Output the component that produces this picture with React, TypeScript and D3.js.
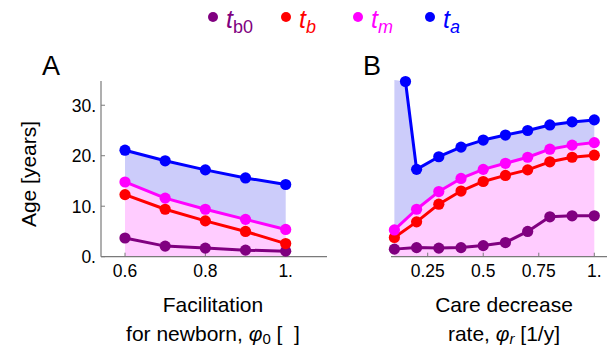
import React from "react";
import * as d3 from "d3";

// ---------- data ----------
const xA = [0.6, 0.7, 0.8, 0.9, 1.0];
const tb0A = [3.7, 2.1, 1.7, 1.3, 1.1];
const tbA = [12.3, 9.4, 7.1, 5.0, 2.6];
const tmA = [14.8, 11.6, 9.4, 7.4, 5.4];
const taA = [21.1, 19.0, 17.2, 15.6, 14.3];

const xB = [0.1, 0.2, 0.3, 0.4, 0.5, 0.6, 0.7, 0.8, 0.9, 1.0];
const tb0B = [1.5, 1.8, 1.7, 1.8, 2.2, 2.8, 5.0, 7.9, 8.1, 8.1];
const tbB = [3.8, 6.9, 10.4, 13.0, 14.9, 16.1, 17.2, 18.8, 19.7, 20.1];
const tmB = [5.3, 9.4, 12.9, 15.5, 17.3, 18.5, 19.7, 21.3, 22.1, 22.6];
const xBa = [0.15, 0.2, 0.3, 0.4, 0.5, 0.6, 0.7, 0.8, 0.9, 1.0];
const taB = [34.7, 17.3, 19.8, 21.7, 23.1, 24.1, 25.0, 26.1, 26.7, 27.1];

const yTicks = [0, 10, 20, 30];
const yTickLabels = ["0.", "10.", "20.", "30."];
const xTicksA = [0.6, 0.8, 1.0];
const xTickLabelsA = ["0.6", "0.8", "1."];
const xTicksB = [0.25, 0.5, 0.75, 1.0];
const xTickLabelsB = ["0.25", "0.5", "0.75", "1."];

const legendNames = ["b0", "b", "m", "a"];
const legendItalicSub = [false, true, true, true];

const C_PURPLE = "#800080";
const C_RED = "#ff0000";
const C_MAGENTA = "#ff00ff";
const C_BLUE = "#0000ff";
const seriesColors = [C_PURPLE, C_RED, C_MAGENTA, C_BLUE];
const FILL_PINK = "#ffccff";
const FILL_BLUE = "#ccccfa";
const AXIS = "#7a7a7a";
const FONT = "'Liberation Sans', Arial, Helvetica, sans-serif";

const Y_MAX = 35;
const yScale = d3.scaleLinear().domain([0, Y_MAX]).range([256.7, 80]);

type Pt = [number, number];
const zip = (xs: number[], ys: number[]): Pt[] => xs.map((x, i) => [x, ys[i]]);

function Panel({
  xScale,
  xs,
  series,
  xsTa,
  ta,
  taFillStart,
  xTicks,
  xTickLabels,
  showY,
}: {
  xScale: d3.ScaleLinear<number, number>;
  xs: number[];
  series: number[][];
  xsTa: number[];
  ta: number[];
  taFillStart: boolean;
  xTicks: number[];
  xTickLabels: string[];
  showY: boolean;
}) {
  const [tb0, tb, tm] = series;
  const y0 = yScale(0);
  const xr = xScale.range();

  const pinkArea = d3
    .area<Pt>()
    .x((d) => xScale(d[0]))
    .y0(y0)
    .y1((d) => yScale(d[1]))(zip(xs, tm));

  const upper: Pt[] = taFillStart ? [[xs[0], Y_MAX], ...zip(xsTa, ta)] : zip(xsTa, ta);
  const lower: Pt[] = zip(xs, tm).reverse();
  const bluePoly = [...upper, ...lower]
    .map((d) => `${xScale(d[0])},${yScale(d[1])}`)
    .join(" ");

  const line = d3
    .line<Pt>()
    .x((d) => xScale(d[0]))
    .y((d) => yScale(d[1]));

  const allSeries: { pts: Pt[]; color: string }[] = [
    { pts: zip(xs, tb0), color: C_PURPLE },
    { pts: zip(xs, tb), color: C_RED },
    { pts: zip(xs, tm), color: C_MAGENTA },
    { pts: zip(xsTa, ta), color: C_BLUE },
  ];

  return (
    <g>
      <polygon points={bluePoly} fill={FILL_BLUE} />
      <path d={pinkArea || ""} fill={FILL_PINK} />
      <line x1={xr[0]} x2={xr[1]} y1={y0} y2={y0} stroke={AXIS} strokeWidth={1.2} />
      {xTicks.map((t, i) => (
        <g key={"xt" + i}>
          <line x1={xScale(t)} x2={xScale(t)} y1={y0} y2={y0 - 4} stroke={AXIS} strokeWidth={1} />
          <text
            x={xScale(t)}
            y={277}
            textAnchor="middle"
            fontFamily={FONT}
            fontSize={17.5}
            fill="#000"
          >
            {xTickLabels[i]}
          </text>
        </g>
      ))}
      {showY && (
        <g>
          <line x1={xr[0]} x2={xr[0]} y1={y0} y2={yScale(Y_MAX) + 1} stroke={AXIS} strokeWidth={1.2} />
          {yTicks.map((t, i) => (
            <g key={"yt" + i}>
              <line x1={xr[0]} x2={xr[0] + 4} y1={yScale(t)} y2={yScale(t)} stroke={AXIS} strokeWidth={1} />
              <text
                x={xr[0] - 5}
                y={yScale(t) + 6.3}
                textAnchor="end"
                fontFamily={FONT}
                fontSize={17.5}
                fill="#000"
              >
                {yTickLabels[i]}
              </text>
            </g>
          ))}
        </g>
      )}
      {allSeries.map((s, i) => (
        <path
          key={"l" + i}
          d={line(s.pts) || ""}
          fill="none"
          stroke={s.color}
          strokeWidth={3}
          strokeLinejoin="round"
        />
      ))}
      {allSeries.map((s, i) =>
        s.pts.map((p, j) => (
          <circle key={`p${i}-${j}`} cx={xScale(p[0])} cy={yScale(p[1])} r={5.6} fill={s.color} />
        ))
      )}
    </g>
  );
}

export default function App() {
  const baseA = d3.scaleLinear().domain([0.6, 1.0]).range([125, 285.7]);
  const baseB = d3.scaleLinear().domain([0.25, 1.0]).range([427.7, 594.3]);
  const scaleA = d3.scaleLinear().domain([baseA.invert(101), baseA.invert(327)]).range([101, 327]);
  const scaleB = d3.scaleLinear().domain([baseB.invert(391), baseB.invert(607)]).range([391, 607]);

  const legendX = [213, 286, 358, 430];

  return (
    <svg
      width={611}
      height={354}
      viewBox="0 0 611 354"
      style={{ position: "absolute", left: 0, top: 0, background: "#fff" }}
    >
      <rect x={0} y={0} width={611} height={354} fill="#fff" />
      {legendNames.map((n, i) => (
        <g key={"lg" + i}>
          <circle cx={legendX[i]} cy={17} r={5} fill={seriesColors[i]} />
          <text x={legendX[i] + 13} y={28} fontFamily={FONT} fill={seriesColors[i]}>
            <tspan fontSize={25} fontStyle="italic">t</tspan>
            <tspan fontSize={18} dy={5} fontStyle={legendItalicSub[i] ? "italic" : "normal"}>
              {n}
            </tspan>
          </text>
        </g>
      ))}

      <text x={42} y={75} fontFamily={FONT} fontSize={27} fill="#000">A</text>
      <text x={363} y={75} fontFamily={FONT} fontSize={27} fill="#000">B</text>

      <text
        transform="translate(36,174) rotate(-90)"
        textAnchor="middle"
        fontFamily={FONT}
        fontSize={21}
        fill="#000"
      >
        Age [years]
      </text>

      <Panel
        xScale={scaleA}
        xs={xA}
        series={[tb0A, tbA, tmA]}
        xsTa={xA}
        ta={taA}
        taFillStart={false}
        xTicks={xTicksA}
        xTickLabels={xTickLabelsA}
        showY={true}
      />
      <Panel
        xScale={scaleB}
        xs={xB}
        series={[tb0B, tbB, tmB]}
        xsTa={xBa}
        ta={taB}
        taFillStart={true}
        xTicks={xTicksB}
        xTickLabels={xTickLabelsB}
        showY={false}
      />

      <text x={213} y={311.5} textAnchor="middle" fontFamily={FONT} fontSize={21} fill="#000">
        Facilitation
      </text>
      <text x={213} y={341} textAnchor="middle" fontFamily={FONT} fontSize={21} fill="#000">
        for newborn,{" "}
        <tspan fontStyle="italic">φ</tspan>
        <tspan fontSize={15} dy={3}>0</tspan>
        <tspan dy={-3}>{"\u00a0[\u00a0\u00a0]"}</tspan>
      </text>
      <text x={504} y={311.5} textAnchor="middle" fontFamily={FONT} fontSize={21} fill="#000">
        Care decrease
      </text>
      <text x={504} y={341} textAnchor="middle" fontFamily={FONT} fontSize={21} fill="#000">
        rate,{" "}
        <tspan fontStyle="italic">φ</tspan>
        <tspan fontSize={15} dy={3} fontStyle="italic">r</tspan>
        <tspan dy={-3}>{"\u00a0[1/y]"}</tspan>
      </text>
    </svg>
  );
}
